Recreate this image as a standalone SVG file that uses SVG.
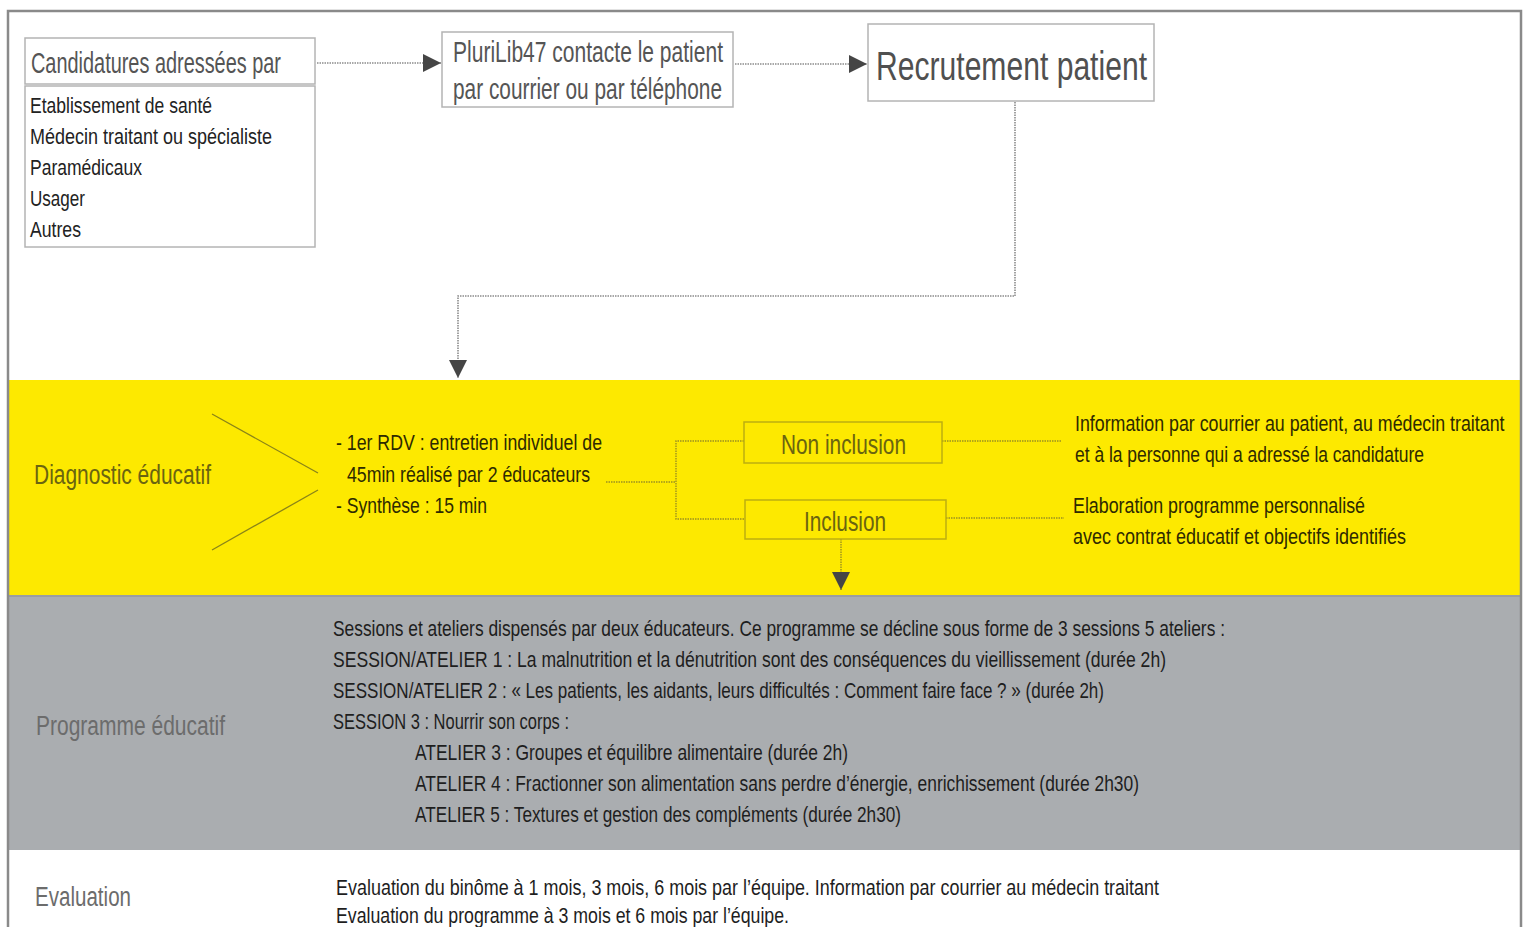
<svg xmlns="http://www.w3.org/2000/svg" width="1526" height="927" viewBox="0 0 1526 927">
<defs>
<style>
text{font-family:"Liberation Sans","DejaVu Sans",sans-serif;}
.box{fill:#fff;stroke:#b4b4b4;stroke-width:1.5;}
.ybox{fill:none;stroke:#bcae10;stroke-width:1.5;}
.dot{fill:none;stroke:#8c8c8c;stroke-width:1.6;stroke-dasharray:1.5 1;}
.ydot{fill:none;stroke:#9a9020;stroke-width:1.4;stroke-dasharray:1.5 1;}
.hd{fill:#555;font-size:29px;}
.li{fill:#222;font-size:22px;}
.ylab{fill:#6a6410;font-size:27px;}
.yt{fill:#2e2a00;font-size:22px;}
.gt{fill:#1e1e1e;font-size:21.5px;}
.glab{fill:#6c6c6c;font-size:27px;}
</style>
<marker id="ah" viewBox="0 0 10 10" refX="10" refY="5" markerWidth="18" markerHeight="18" markerUnits="userSpaceOnUse" orient="auto">
<path d="M0,0 L10,5 L0,10 z" fill="#454545"/>
</marker>
</defs>
<rect x="0" y="0" width="1526" height="927" fill="#fff"/>
<!-- bands -->
<rect x="8" y="380" width="1514" height="215" fill="#fde900"/>
<rect x="8" y="595" width="1514" height="255" fill="#aaadb0"/>
<line x1="8" y1="596" x2="1522" y2="596" stroke="#9a9da0" stroke-width="2"/>
<!-- outer frame -->
<path d="M8,935 L8,11 L1521,11 L1521,935" fill="none" stroke="#8a8a8a" stroke-width="2.5"/>

<g id="connectors">
<line class="dot" x1="317" y1="63" x2="441" y2="63" marker-end="url(#ah)"/>
<line class="dot" x1="735" y1="64" x2="867" y2="64" marker-end="url(#ah)"/>
<polyline class="dot" points="1015,102 1015,296 458,296 458,378" marker-end="url(#ah)"/>
<line class="ydot" x1="606" y1="482" x2="676" y2="482"/>
<polyline class="ydot" points="744,441 676,441 676,519 745,519"/>
<line class="ydot" x1="942" y1="441" x2="1062" y2="441"/>
<line class="ydot" x1="946" y1="518" x2="1064" y2="518"/>
<line class="ydot" x1="841" y1="539" x2="841" y2="590" marker-end="url(#ah)"/>
<line x1="212" y1="414" x2="318" y2="473" stroke="#8a8418" stroke-width="1.3"/>
<line x1="318" y1="490" x2="212" y2="550" stroke="#8a8418" stroke-width="1.3"/>
</g>

<g id="candidatures">
<rect class="box" x="25" y="38" width="290" height="46"/>
<text class="hd" x="31" y="73" textLength="250" lengthAdjust="spacingAndGlyphs">Candidatures adressées par</text>
<rect class="box" x="25" y="86" width="290" height="161"/>
<text class="li" x="30" y="113" textLength="182" lengthAdjust="spacingAndGlyphs">Etablissement de santé</text>
<text class="li" x="30" y="144" textLength="242" lengthAdjust="spacingAndGlyphs">Médecin traitant ou spécialiste</text>
<text class="li" x="30" y="175" textLength="112" lengthAdjust="spacingAndGlyphs">Paramédicaux</text>
<text class="li" x="30" y="206" textLength="55" lengthAdjust="spacingAndGlyphs">Usager</text>
<text class="li" x="30" y="237" textLength="51" lengthAdjust="spacingAndGlyphs">Autres</text>
</g>

<g id="plurilib">
<rect class="box" x="442" y="32" width="291" height="75"/>
<text class="hd" x="453" y="62" textLength="270" lengthAdjust="spacingAndGlyphs">PluriLib47 contacte le patient</text>
<text class="hd" x="453" y="99" textLength="269" lengthAdjust="spacingAndGlyphs">par courrier ou par téléphone</text>
</g>

<g id="recrutement">
<rect class="box" x="868" y="24" width="286" height="77"/>
<text x="876" y="80" fill="#505050" font-size="40" textLength="271" lengthAdjust="spacingAndGlyphs">Recrutement patient</text>
</g>

<g id="diagnostic">
<text class="ylab" x="34" y="484" textLength="177" lengthAdjust="spacingAndGlyphs">Diagnostic éducatif</text>
<text class="yt" x="336" y="450" textLength="266" lengthAdjust="spacingAndGlyphs">- 1er RDV : entretien individuel de</text>
<text class="yt" x="347" y="482" textLength="243" lengthAdjust="spacingAndGlyphs">45min réalisé par 2 éducateurs</text>
<text class="yt" x="336" y="513" textLength="151" lengthAdjust="spacingAndGlyphs">- Synthèse : 15 min</text>
</g>

<g id="non-inclusion">
<rect class="ybox" x="744" y="422" width="198" height="41"/>
<text class="ylab" x="781" y="454" textLength="125" lengthAdjust="spacingAndGlyphs">Non inclusion</text>
</g>
<g id="inclusion">
<rect class="ybox" x="745" y="500" width="201" height="39"/>
<text class="ylab" x="804" y="531" textLength="82" lengthAdjust="spacingAndGlyphs">Inclusion</text>
</g>

<g id="information">
<text class="yt" transform="translate(1075 431) scale(0.81 1)" x="0" y="0">Information par courrier au patient, au médecin traitant</text>
<text class="yt" x="1075" y="462" textLength="349" lengthAdjust="spacingAndGlyphs">et à la personne qui a adressé la candidature</text>
</g>
<g id="elaboration">
<text class="yt" x="1073" y="513" textLength="292" lengthAdjust="spacingAndGlyphs">Elaboration programme personnalisé</text>
<text class="yt" x="1073" y="544" textLength="333" lengthAdjust="spacingAndGlyphs">avec contrat éducatif et objectifs identifiés</text>
</g>

<g id="programme">
<text class="glab" x="36" y="735" textLength="189" lengthAdjust="spacingAndGlyphs">Programme éducatif</text>
<text class="gt" x="333" y="636" textLength="892" lengthAdjust="spacingAndGlyphs">Sessions et ateliers dispensés par deux éducateurs. Ce programme se décline sous forme de  3 sessions  5 ateliers :</text>
<text class="gt" x="333" y="667" textLength="833" lengthAdjust="spacingAndGlyphs">SESSION/ATELIER 1 : La malnutrition et la dénutrition sont des  conséquences du vieillissement (durée  2h)</text>
<text class="gt" x="333" y="698" textLength="771" lengthAdjust="spacingAndGlyphs">SESSION/ATELIER 2 : « Les patients, les aidants, leurs difficultés : Comment faire face ? » (durée 2h)</text>
<text class="gt" x="333" y="729" textLength="236" lengthAdjust="spacingAndGlyphs">SESSION 3 : Nourrir son corps :</text>
<text class="gt" x="415" y="760" textLength="433" lengthAdjust="spacingAndGlyphs">ATELIER 3 : Groupes et équilibre  alimentaire (durée 2h)</text>
<text class="gt" x="415" y="791" textLength="724" lengthAdjust="spacingAndGlyphs">ATELIER 4 : Fractionner son alimentation sans perdre d’énergie, enrichissement (durée 2h30)</text>
<text class="gt" x="415" y="822" textLength="486" lengthAdjust="spacingAndGlyphs">ATELIER 5 : Textures et gestion des compléments (durée 2h30)</text>
</g>

<g id="evaluation">
<text class="glab" x="35" y="906" textLength="96" lengthAdjust="spacingAndGlyphs">Evaluation</text>
<text class="gt" x="336" y="895" textLength="823" lengthAdjust="spacingAndGlyphs">Evaluation du binôme à 1 mois, 3 mois,  6 mois par l’équipe. Information par courrier au médecin traitant</text>
<text class="gt" x="336" y="923" textLength="453" lengthAdjust="spacingAndGlyphs">Evaluation du programme à 3 mois et 6 mois par l’équipe.</text>
</g>
</svg>
